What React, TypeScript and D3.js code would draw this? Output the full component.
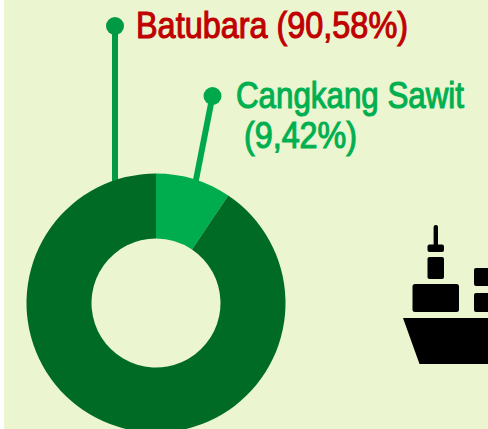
import React from 'react';
import * as d3 from 'd3';

const categories = ['Cangkang Sawit', 'Batubara'];
const shares = [9.42, 90.58];
const sliceColors = ['#00ad4e', '#006b25'];

const WIDTH = 488;
const HEIGHT = 429;
const CX = 156;
const CY = 303;
const FONT = '"Liberation Sans Narrow", "Liberation Sans", sans-serif';

const createPie = d3.pie<number>().sort(null);
const createArc = d3.arc<d3.PieArcDatum<number>>().innerRadius(64.5).outerRadius(129.5);

const Ship = () => (
    <g fill="#000">
        <rect x={433.6} y={225} width={4.4} height={22} rx={2} />
        <rect x={427.5} y={244.5} width={16.5} height={7.5} rx={2} />
        <rect x={427.5} y={257} width={16.5} height={22} rx={2} />
        <rect x={412.5} y={284} width={46.5} height={28} rx={2.5} />
        <rect x={474} y={268} width={24} height={18} rx={2} />
        <rect x={474} y={293} width={24} height={19} rx={2} />
        <path d="M403,318 L488,318 L488,364 L419.5,364 Z" />
    </g>
);

const App = () => {
    const slices = createPie(shares);

    return (
        <svg width={WIDTH} height={HEIGHT} viewBox={`0 0 ${WIDTH} ${HEIGHT}`}
             style={{ position: 'fixed', left: 0, top: 0, display: 'block', background: '#fff' }}>
            <rect x={4} y={0} width={WIDTH - 4} height={HEIGHT} fill="#ebf5cf" />

            {/* leader lines sit behind the ring */}
            <line x1={115} y1={26} x2={115} y2={190} stroke="#009a44" strokeWidth={6} />
            <circle cx={115} cy={26} r={9} fill="#009a44" />
            <line x1={212.5} y1={96} x2={194} y2={190} stroke="#00a84c" strokeWidth={6} />
            <circle cx={212.5} cy={96} r={9} fill="#00a84c" />

            <g transform={`translate(${CX} ${CY})`}>
                {slices.map((d, i) => (
                    <path key={categories[i]} d={createArc(d) ?? ''} fill={sliceColors[i]} />
                ))}
            </g>

            <g fontFamily={FONT} fontSize={36} strokeWidth={1.1}>
                <text x={136} y={38} fill="#c00000" stroke="#c00000" textLength={272} lengthAdjust="spacingAndGlyphs">
                    {`${categories[1]} (90,58%)`}
                </text>
                <text x={236} y={108} fill="#00b050" stroke="#00b050" textLength={228} lengthAdjust="spacingAndGlyphs">
                    {categories[0]}
                </text>
                <text x={244} y={148} fill="#00b050" stroke="#00b050" textLength={113} lengthAdjust="spacingAndGlyphs">
                    (9,42%)
                </text>
            </g>

            <Ship />
        </svg>
    );
};

export default App;
